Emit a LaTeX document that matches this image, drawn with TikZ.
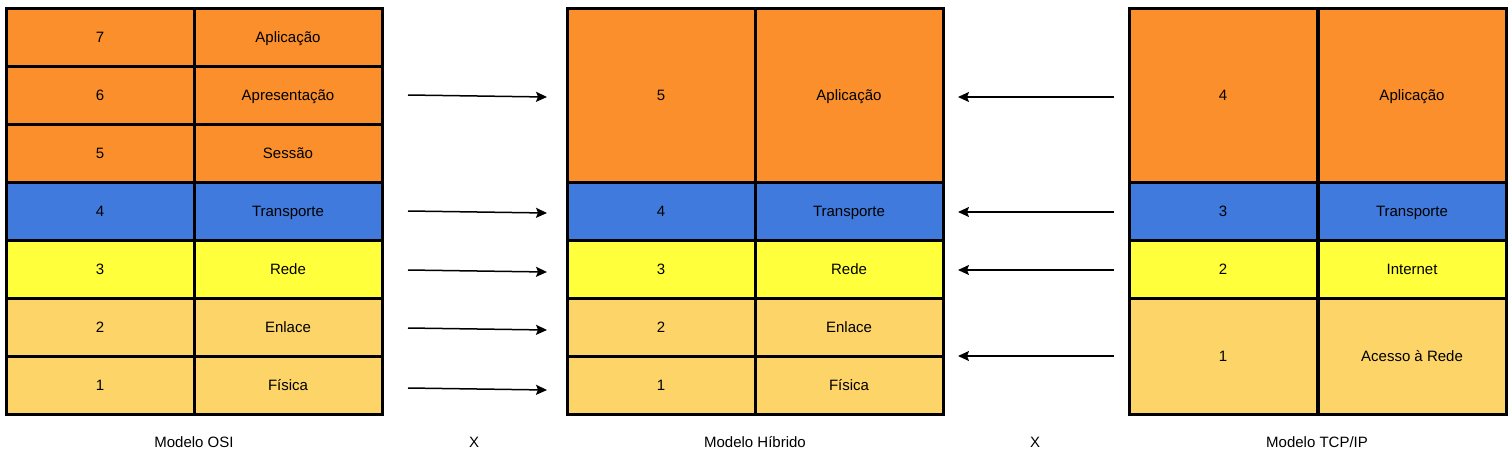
\documentclass[tikz,border=0pt]{standalone}
\usepackage{fontspec}
\setmainfont{Liberation Sans}
\usepackage{tikz}
\usetikzlibrary{arrows.meta}
\definecolor{laranja}{RGB}{250,143,43}
\definecolor{azul}{RGB}{64,122,220}
\definecolor{amarelo}{RGB}{255,255,59}
\definecolor{creme}{RGB}{253,212,104}
\tikzset{
    cell/.style={rectangle, draw, line width=3pt, inner sep=0pt,
    	minimum width=188pt, minimum height=58pt,
    	text height=11pt, text depth=0pt,
    	font=\fontsize{15}{17}\selectfont}
}
\tikzset{
    tall/.style={minimum height=174pt},
    mid/.style={minimum height=116pt}
}
\tikzset{
    seta/.style={line width=1.5pt, -{Stealth[length=11pt,width=10pt,inset=2pt]}}
}
\tikzset{
    rotulo/.style={text height=11pt, text depth=0pt,
    	font=\fontsize{15}{17}\selectfont}
}

\begin{document}
\begin{tikzpicture}[x=1pt,y=-1pt]
	\useasboundingbox (0,0) rectangle (1512,469);
	% modelo OSI
	\node[cell, fill=laranja] (o7) at (100,37) {7};
	\node[cell, fill=laranja] (o7n) at (288,37) {Aplicação};
	\node[cell, fill=laranja] (o6) at (100,95) {6};
	\node[cell, fill=laranja] (o6n) at (288,95) {Apresentação};
	\node[cell, fill=laranja] (o5) at (100,153) {5};
	\node[cell, fill=laranja] (o5n) at (288,153) {Sessão};
	\node[cell, fill=azul] (o4) at (100,211) {4};
	\node[cell, fill=azul] (o4n) at (288,211) {Transporte};
	\node[cell, fill=amarelo] (o3) at (100,269) {3};
	\node[cell, fill=amarelo] (o3n) at (288,269) {Rede};
	\node[cell, fill=creme] (o2) at (100,327) {2};
	\node[cell, fill=creme] (o2n) at (288,327) {Enlace};
	\node[cell, fill=creme] (o1) at (100,385) {1};
	\node[cell, fill=creme] (o1n) at (288,385) {Física};
	
	% modelo hibrido
	\node[cell, tall, fill=laranja] (h5) at (661,95) {5};
	\node[cell, tall, fill=laranja] (h5n) at (849,95) {Aplicação};
	\node[cell, fill=azul] (h4) at (661,211) {4};
	\node[cell, fill=azul] (h4n) at (849,211) {Transporte};
	\node[cell, fill=amarelo] (h3) at (661,269) {3};
	\node[cell, fill=amarelo] (h3n) at (849,269) {Rede};
	\node[cell, fill=creme] (h2) at (661,327) {2};
	\node[cell, fill=creme] (h2n) at (849,327) {Enlace};
	\node[cell, fill=creme] (h1) at (661,385) {1};
	\node[cell, fill=creme] (h1n) at (849,385) {Física};
	
	% modelo TCP/IP
	\node[cell, tall, fill=laranja] (t4) at (1223,95) {4};
	\node[cell, tall, fill=laranja] (t4n) at (1412,95) {Aplicação};
	\node[cell, fill=azul] (t3) at (1223,211) {3};
	\node[cell, fill=azul] (t3n) at (1412,211) {Transporte};
	\node[cell, fill=amarelo] (t2) at (1223,269) {2};
	\node[cell, fill=amarelo] (t2n) at (1412,269) {Internet};
	\node[cell, mid, fill=creme] (t1) at (1223,356) {1};
	\node[cell, mid, fill=creme] (t1n) at (1412,356) {Acesso à Rede};
	
	\node[rotulo] (osi) at (194,442) {Modelo OSI};
	\node[rotulo] (x1) at (474,442) {X};
	\node[rotulo] (hib) at (755,442) {Modelo Híbrido};
	\node[rotulo] (x2) at (1035,442) {X};
	\node[rotulo] (tcp) at (1317,442) {Modelo TCP/IP};
	
	% setas
	\coordinate (a1) at (408,95); \coordinate (b1) at (547,97);
	\coordinate (a2) at (408,211); \coordinate (b2) at (547,213);
	\coordinate (a3) at (408,270); \coordinate (b3) at (547,272);
	\coordinate (a4) at (408,328); \coordinate (b4) at (547,330);
	\coordinate (a5) at (408,388); \coordinate (b5) at (547,390);
	\coordinate (c1) at (1114,97); \coordinate (d1) at (958,97);
	\coordinate (c2) at (1114,212); \coordinate (d2) at (958,212);
	\coordinate (c3) at (1114,270); \coordinate (d3) at (958,270);
	\coordinate (c4) at (1114,356); \coordinate (d4) at (958,356);
	
	\draw[seta] (a1) -- (b1); \draw[seta] (a2) -- (b2);
	\draw[seta] (a3) -- (b3); \draw[seta] (a4) -- (b4);
	\draw[seta] (a5) -- (b5);
	\draw[seta] (c1) -- (d1); \draw[seta] (c2) -- (d2);
	\draw[seta] (c3) -- (d3); \draw[seta] (c4) -- (d4);
\end{tikzpicture}
\end{document}
